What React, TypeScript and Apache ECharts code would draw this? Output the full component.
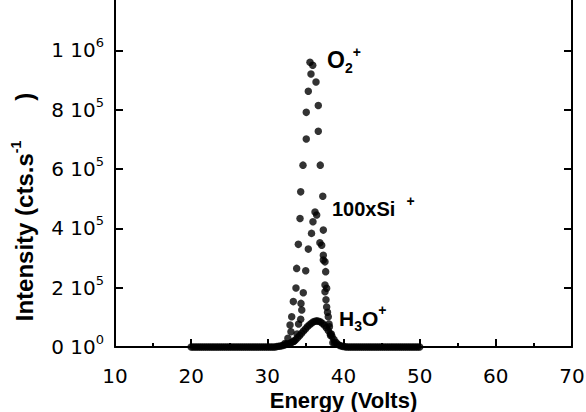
import React, { useEffect, useRef } from "react";
import * as echarts from "echarts";

// Tick labels of the intensity axis: [mantissa, exponent]
const yTickLabels: [string, string][] = [
  ["0", "0"],
  ["2", "5"],
  ["4", "5"],
  ["6", "5"],
  ["8", "5"],
  ["1", "6"],
];

// O2+ : [energy (V), counts/s]
const o2Points: [number, number][] = [
  [32.3, 11700], [32.7, 29200], [32.98, 74000], [33.1, 51600], [33.2, 102000],
  [33.41, 153000], [33.76, 199000], [33.85, 265000], [34.07, 346000], [34.29, 433000],
  [34.38, 523000], [34.68, 613000], [35.11, 701000], [35.11, 791000], [35.38, 862000],
  [35.6, 960000], [35.73, 920000], [35.96, 950000], [36.39, 893000], [36.69, 814000],
  [36.69, 727000], [36.95, 613000], [37.28, 508000], [37.35, 394000], [37.66, 254000],
  [37.79, 198000], [37.79, 135000], [38.0, 102000], [38.15, 68000], [38.3, 39000],
  [38.6, 14600],
];

// 100 x Si+ : [energy (V), counts/s]
const si100Points: [number, number][] = [
  [33.5, 19500], [33.9, 43800], [34.1, 77800], [34.38, 93400], [34.52, 124500],
  [34.42, 147000], [34.72, 183000], [35.04, 257000], [35.38, 330000], [35.8, 383000],
  [35.99, 422000], [36.26, 455000], [36.48, 445000], [36.9, 351000], [37.14, 343000],
  [37.35, 309000], [37.35, 293000], [37.57, 287000], [37.57, 209000], [37.57, 186000],
  [37.7, 159000], [37.9, 117000], [38.1, 77800], [38.4, 43800], [38.8, 14600],
];

// H3O+ : sampled every 0.25 V from 20 V to 50 V (counts/s)
const h3oEnergyStart = 20;
const h3oEnergyStep = 0.25;
const h3oCounts: number[] = [
  // 20.00 - 31.00
  0, 0, 0, 0, 0, 0, 0, 0, 0, 0, 0, 0, 0, 0, 0, 0, 0, 0, 0, 0,
  0, 0, 0, 0, 0, 0, 0, 0, 0, 0, 0, 0, 0, 0, 0, 0, 0, 0, 0, 0,
  0, 0, 0, 0, 0,
  // 31.25 - 40.25
  1500, 2500, 3500, 5000, 7000, 9000, 11000, 13000, 16000, 20000,
  25000, 32000, 39000, 46000, 54000, 61000, 68000, 74000, 79000, 84000,
  87000, 88000, 87000, 84000, 79000, 73000, 65000, 56000, 45000, 35000,
  25000, 16000, 9000, 5000, 3000, 1500, 500,
  // 40.50 - 50.00
  0, 0, 0, 0, 0, 0, 0, 0, 0, 0, 0, 0, 0, 0, 0, 0, 0, 0, 0, 0,
  0, 0, 0, 0, 0, 0, 0, 0, 0, 0, 0, 0, 0, 0, 0, 0, 0, 0, 0,
];

const FONT = "'Liberation Sans', Arial, Helvetica, sans-serif";
const NUM_FONT = "'DejaVu Sans', 'Liberation Sans', sans-serif";

export default function App() {
  const ref = useRef<HTMLDivElement>(null);

  useEffect(() => {
    document.body.style.margin = "0";
    const chart = echarts.init(ref.current!, null, { renderer: "svg" });
    const black = "#000";
    const tickStyle = { color: black, width: 2 };

    const h3oData = h3oCounts.map((c, i) => [h3oEnergyStart + i * h3oEnergyStep, c]);

    const yAxisBase = {
      type: "value",
      min: 0,
      max: 1200000,
      interval: 200000,
      splitLine: { show: false },
      axisLine: { show: true, lineStyle: { color: black, width: 2 } },
      axisTick: { show: true, inside: true, length: 8, lineStyle: tickStyle },
    };

    chart.setOption({
      animation: false,
      backgroundColor: "#fff",
      grid: {
        left: 115,
        right: 14,
        top: -9,
        bottom: 65,
        containLabel: false,
        outerBoundsMode: "none",
      },
      xAxis: {
        type: "value",
        min: 10,
        max: 70,
        interval: 10,
        splitLine: { show: false },
        axisLine: { lineStyle: { color: black, width: 2 } },
        axisTick: { inside: true, length: 8, lineStyle: tickStyle },
        minorTick: { show: true, splitNumber: 2, length: 4, lineStyle: tickStyle },
        axisLabel: { fontFamily: NUM_FONT, fontSize: 20, color: black, margin: 19 },
        name: "Energy (Volts)",
        nameLocation: "middle",
        nameGap: 42,
        nameMoveOverlap: false,
        nameTextStyle: { fontFamily: FONT, fontSize: 22, fontWeight: "bold", color: black },
      },
      yAxis: [
        {
          ...yAxisBase,
          position: "left",
          axisLabel: {
            margin: 11,
            formatter: (v: number) => {
              const t = yTickLabels[Math.round(v / 200000)];
              if (!t || v > 1000000) return "";
              return `{n|${t[0]} 10}{s|${t[1]}}`;
            },
            rich: {
              n: { fontFamily: NUM_FONT, fontSize: 20, lineHeight: 28, color: black },
              s: { fontFamily: NUM_FONT, fontSize: 13, lineHeight: 13, verticalAlign: "top", color: black },
            },
          },
        },
        {
          ...yAxisBase,
          position: "right",
          axisLabel: { show: false },
        },
      ],
      series: [
        {
          name: "O2+",
          type: "scatter",
          data: o2Points,
          symbolSize: 7.5,
          itemStyle: { color: black },
        },
        {
          name: "100xSi+",
          type: "scatter",
          data: si100Points,
          symbolSize: 7.5,
          itemStyle: { color: black },
        },
        {
          name: "H3O+",
          type: "scatter",
          data: h3oData,
          symbolSize: 7.5,
          itemStyle: { color: black },
        },
      ],
      graphic: [
        {
          type: "text",
          x: 24,
          y: 207,
          rotation: Math.PI / 2,
          style: {
            text: "{m|Intensity (cts.s}{sup|-1}{m|      )}",
            align: "center",
            verticalAlign: "middle",
            rich: {
              m: { fontFamily: FONT, fontSize: 24, fontWeight: "bold", lineHeight: 30, fill: black },
              sup: { fontFamily: FONT, fontSize: 14, fontWeight: "bold", lineHeight: 14, verticalAlign: "top", fill: black },
            },
          },
        },
        {
          type: "text",
          x: 327,
          y: 60,
          style: {
            text: "{m|O}{sub|2}{sup|+}",
            align: "left",
            verticalAlign: "middle",
            rich: {
              m: { fontFamily: FONT, fontSize: 23, fontWeight: "bold", lineHeight: 30, fill: black },
              sub: { fontFamily: FONT, fontSize: 14, fontWeight: "bold", lineHeight: 14, verticalAlign: "bottom", fill: black },
              sup: { fontFamily: FONT, fontSize: 14, fontWeight: "bold", lineHeight: 14, verticalAlign: "top", fill: black },
            },
          },
        },
        {
          type: "text",
          x: 332,
          y: 209,
          style: {
            text: "{m|100xSi  }{sup|+}",
            align: "left",
            verticalAlign: "middle",
            rich: {
              m: { fontFamily: FONT, fontSize: 20, fontWeight: "bold", lineHeight: 30, fill: black },
              sup: { fontFamily: FONT, fontSize: 14, fontWeight: "bold", lineHeight: 14, verticalAlign: "top", fill: black },
            },
          },
        },
        {
          type: "text",
          x: 339,
          y: 318,
          style: {
            text: "{m|H}{sub|3}{m|O}{sup|+}",
            align: "left",
            verticalAlign: "middle",
            rich: {
              m: { fontFamily: FONT, fontSize: 21, fontWeight: "bold", lineHeight: 30, fill: black },
              sub: { fontFamily: FONT, fontSize: 14, fontWeight: "bold", lineHeight: 14, verticalAlign: "bottom", fill: black },
              sup: { fontFamily: FONT, fontSize: 14, fontWeight: "bold", lineHeight: 14, verticalAlign: "top", fill: black },
            },
          },
        },
      ],
    });

    return () => chart.dispose();
  }, []);

  return <div ref={ref} style={{ width: 586, height: 412 }} />;
}
